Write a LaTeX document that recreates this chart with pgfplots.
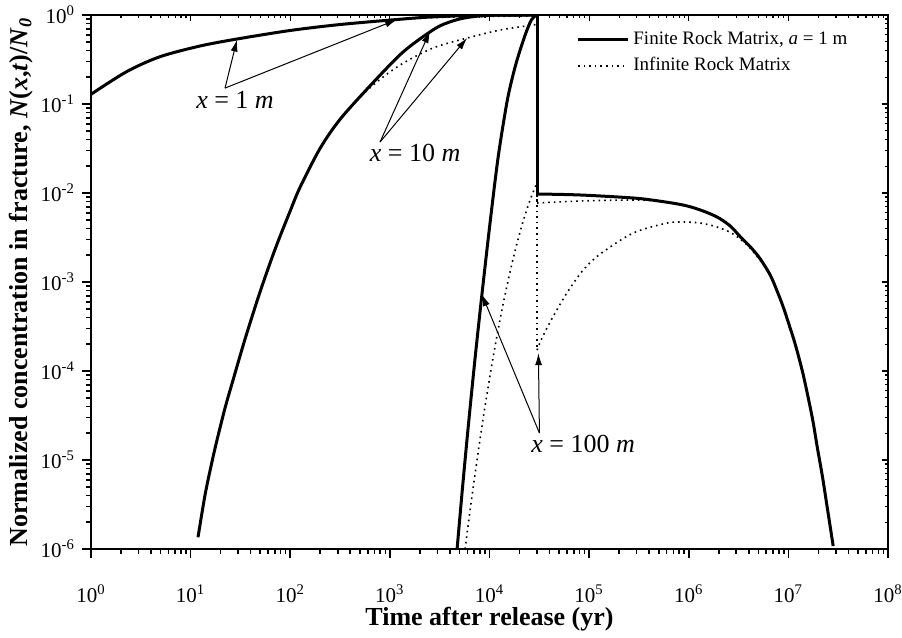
\documentclass[border=0pt]{standalone}
\usepackage{fontspec}
\setmainfont{Liberation Serif}
\usepackage{pgfplots}
\pgfplotsset{compat=1.18}
\usetikzlibrary{arrows.meta}

\begin{document}
\begin{tikzpicture}
\tikzset{
  finite/.style={black, line width=1.5pt, line join=round},
  infinite/.style={black, line width=0.8pt, dash pattern=on 0.8pt off 2pt},
  note/.style={font=\fontsize{13}{15}\selectfont},
  pointer/.style={-{Latex[length=6pt,width=3.5pt]}, line width=0.5pt},
}
\begin{loglogaxis}[
  scale only axis,
  width=398.5pt, height=267pt,
  xmin=1, xmax=1e8, ymin=1e-6, ymax=1,
  axis line style={line width=0.9pt},
  tick align=outside,
  xtick pos=bottom, ytick pos=left,
  major tick length=4.5pt, minor tick length=2.5pt,
  every tick/.style={black, line width=0.8pt},
  log number format basis/.code 2 args={#1\textsuperscript{\pgfmathprintnumber[assume math mode=true]{#2}}},
  tick label style={font=\fontsize{10.5}{12}\selectfont},
  xticklabel shift=10pt,
  label style={font=\fontsize{13}{15}\selectfont},
  xlabel style={yshift=5pt},
  ylabel shift=-3pt,
  xlabel={\textbf{Time after release (yr)}},
  ylabel={\textbf{Normalized concentration in fracture, \textit{N}(\textit{x},\textit{t})/\textit{N}\textsubscript{\textit{0}}}},
  legend style={at={(0.601,0.985)}, anchor=north west, draw=none, fill=none,
    font=\fontsize{9.5}{11}\selectfont, row sep=1pt},
  legend cell align=left,
  legend image code/.code={\draw[#1] (0pt,0pt) -- (25pt,0pt);},
]
\addlegendimage{finite}
\addlegendentry{Finite Rock Matrix, \textit{a} = 1 m}
\addlegendimage{infinite}
\addlegendentry{Infinite Rock Matrix}

% infinite rock matrix, x = 1 m
\addplot[infinite, smooth, forget plot] coordinates {
 (1,0.1285)(2.28,0.231)(4.93,0.340)(12.43,0.4484)(29.24,0.5375)(99.5,0.6696)
 (316.2,0.7818)(1181,0.885)(2535,0.93)(6386,0.958)(20290,0.972)(30000,0.975)
};
% infinite rock matrix, x = 10 m
\addplot[infinite, smooth, forget plot] coordinates {
 (11.87,1.36e-6)(13.95,4.05e-6)(16.40,9.6e-6)(18.41,1.68e-5)(22.15,3.84e-5)
 (26.66,7.92e-5)(35.48,2.36e-4)(50.12,7.93e-4)(70.79,2.37e-3)(100,6.31e-3)
 (125.5,0.01161)(199.5,0.0318)(316.2,0.0673)(631,0.152)(1266,0.274)
 (2715,0.426)(5957,0.551)(12780,0.678)(27400,0.772)(30000,0.79)
};
\addplot[infinite, forget plot] coordinates {(30000,0.975)(30000,0.00772)};
\addplot[infinite, smooth, forget plot] coordinates {
 (30000,0.00772)(81200,0.00813)(276600,0.00834)(5e5,0.0081)(878700,0.00733)
 (1.3e6,6.46e-3)(1.928e6,5.37e-3)(2.6e6,4.27e-3)(3.281e6,3.24e-3)
 (4.2e6,2.45e-3)(5.212e6,1.82e-3)(6.566e6,1.20e-3)(7.7e6,7.94e-4)
 (8.87e6,5.25e-4)(1.03e7,3.16e-4)(1.171e7,2.0e-4)(1.408e7,9.12e-5)
 (1.734e7,3.02e-5)(1.946e7,1.41e-5)(2.2e7,6.46e-6)(2.452e7,2.95e-6)(2.817e7,1.08e-6)
};
% infinite rock matrix, x = 100 m
\addplot[infinite, smooth, forget plot] coordinates {
 (5689,1e-6)(6607,3.63e-6)(8318,2.23e-5)(10470,1.117e-4)(13180,4.56e-4)
 (16600,1.52e-3)(20890,4.13e-3)(25120,7.92e-3)(30000,0.0131)
};
\addplot[infinite, forget plot] coordinates {(30000,0.0131)(30000,1.72e-4)};
\addplot[infinite, smooth, forget plot] coordinates {
 (30000,1.72e-4)(32960,2.23e-4)(40600,3.56e-4)(59720,7.52e-4)(87060,1.36e-3)
 (1.29e5,2.06e-3)(2.766e5,3.55e-3)(6.07e5,4.60e-3)(8.79e5,4.72e-3)
 (1.302e6,4.60e-3)(1.928e6,4.15e-3)(2.792e6,3.46e-3)(4.135e6,2.40e-3)
 (6.125e6,1.35e-3)(7.7e6,7.94e-4)(8.87e6,5.25e-4)(1.03e7,3.16e-4)
 (1.171e7,2.0e-4)(1.408e7,9.12e-5)(1.734e7,3.02e-5)(1.946e7,1.41e-5)
 (2.2e7,6.46e-6)(2.452e7,2.95e-6)(2.817e7,1.08e-6)
};

% finite rock matrix, x = 1 m
\addplot[finite, smooth, forget plot] coordinates {
 (1,0.1285)(2.28,0.231)(4.93,0.340)(12.43,0.4484)(29.24,0.5375)(99.5,0.6696)
 (316.2,0.7818)(1181,0.8903)(2535,0.9496)(6386,0.987)(20290,1)(30000,1)
};
% finite rock matrix, x = 10 m
\addplot[finite, smooth, forget plot] coordinates {
 (11.87,1.36e-6)(13.95,4.05e-6)(16.40,9.6e-6)(18.41,1.68e-5)(22.15,3.84e-5)
 (26.66,7.92e-5)(35.48,2.36e-4)(50.12,7.93e-4)(70.79,2.37e-3)(100,6.31e-3)
 (125.5,0.01161)(199.5,0.0318)(316.2,0.0673)(631,0.1596)(1259,0.356)
 (1995,0.537)(3162,0.752)(5012,0.902)(7943,0.975)(12590,0.997)(30000,1)
};
% finite rock matrix, x = 100 m
\addplot[finite, smooth, forget plot] coordinates {
 (4728,1e-6)(5308,4.35e-6)(6098,2.29e-5)(7168,1.40e-4)(8428,7.55e-4)
 (10140,4.68e-3)(12200,0.0251)(15020,0.107)(17660,0.237)(20290,0.404)
 (23310,0.638)(26170,0.871)(28700,0.973)(30000,1)
};
\addplot[finite, forget plot] coordinates {(30000,1)(30000,0.00975)};
\addplot[finite, smooth, forget plot] coordinates {
 (30000,0.00975)(81200,0.0095)(276600,0.00879)(5e5,8.13e-3)(878700,0.00733)
 (1.3e6,6.46e-3)(1.928e6,5.37e-3)(2.6e6,4.27e-3)(3.281e6,3.24e-3)
 (4.2e6,2.45e-3)(5.212e6,1.82e-3)(6.566e6,1.20e-3)(7.7e6,7.94e-4)
 (8.87e6,5.25e-4)(1.03e7,3.16e-4)(1.171e7,2.0e-4)(1.408e7,9.12e-5)
 (1.734e7,3.02e-5)(1.946e7,1.41e-5)(2.2e7,6.46e-6)(2.452e7,2.95e-6)(2.817e7,1.08e-6)
};

% annotations
\node[note] at (axis cs:27.9,0.111) {\textit{x} = 1 \textit{m}};
\draw[pointer] (axis cs:22.15,0.151) -- (axis cs:29.24,0.53);
\draw[pointer] (axis cs:22.15,0.151) -- (axis cs:1181,0.89);
\node[note] at (axis cs:1791,0.0281) {\textit{x} = 10 \textit{m}};
\draw[pointer] (axis cs:797,0.0374) -- (axis cs:2535,0.66);
\draw[pointer] (axis cs:797,0.0374) -- (axis cs:5957,0.551);
\node[note] at (axis cs:87060,1.51e-5) {\textit{x} = 100 \textit{m}};
\draw[pointer] (axis cs:31700,2.01e-5) -- (axis cs:8370,7.3e-4);
\draw[pointer] (axis cs:31700,2.01e-5) -- (axis cs:30970,1.59e-4);

\coordinate (sw) at (rel axis cs:0,0);
\coordinate (ne) at (rel axis cs:1,1);
\end{loglogaxis}
% mirrored ticks on top and right, pointing inward
\begin{loglogaxis}[
  scale only axis,
  width=398.5pt, height=267pt,
  xmin=1, xmax=1e8, ymin=1e-6, ymax=1,
  axis line style={draw=none},
  tick align=inside,
  xtick pos=top, ytick pos=right,
  major tick length=3pt, minor tick length=1.5pt,
  every tick/.style={black, line width=0.6pt},
  xticklabels={}, yticklabels={},
]
\addplot[draw=none] coordinates {(1,1e-6)};
\end{loglogaxis}
\pgfresetboundingbox
\path[use as bounding box] ([xshift=-45.5pt,yshift=-44pt]sw) rectangle ([xshift=7pt,yshift=7.5pt]ne);
\end{tikzpicture}
\end{document}
